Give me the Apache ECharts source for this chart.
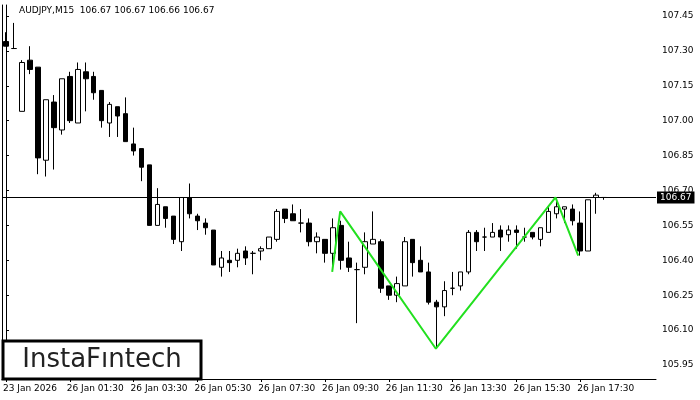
<!DOCTYPE html><html><head><meta charset="utf-8"><script src="https://cdn.jsdelivr.net/npm/echarts@6/dist/echarts.min.js"></script>
<style>body{margin:0}#c{width:700px;height:400px}</style></head><body><div id="c"></div><script>
// [open, close, low, high]
const ohlc = [
[107.34,107.32,107.32,107.38],[107.31,107.31,107.31,107.42],[107.04,107.25,107.04,107.26],[107.26,107.22,107.20,107.32],
[107.23,106.84,106.77,107.23],[106.83,107.09,106.76,107.09],[107.08,106.97,106.79,107.11],[106.96,107.18,106.94,107.18],
[107.19,107.00,106.99,107.21],[106.99,107.22,106.99,107.25],[107.21,107.18,107.04,107.25],[107.19,107.12,107.09,107.21],
[107.13,107.00,106.97,107.13],[106.99,107.07,106.93,107.08],[107.06,107.02,106.93,107.06],[107.03,106.91,106.91,107.10],
[106.90,106.87,106.85,106.97],[106.88,106.80,106.74,106.88],[106.81,106.55,106.55,106.81],[106.55,106.64,106.55,106.71],
[106.63,106.58,106.54,106.63],[106.59,106.49,106.47,106.59],[106.48,106.67,106.44,106.67],[106.67,106.60,106.58,106.73],
[106.59,106.57,106.53,106.60],[106.56,106.54,106.51,106.58],[106.53,106.38,106.38,106.53],[106.37,106.41,106.33,106.44],
[106.40,106.39,106.35,106.44],[106.40,106.43,106.37,106.45],[106.44,106.41,106.38,106.46],[106.43,106.43,106.34,106.44],
[106.44,106.45,106.40,106.46],[106.45,106.50,106.45,106.50],[106.49,106.61,106.48,106.62],[106.62,106.58,106.56,106.62],
[106.60,106.57,106.57,106.64],[106.56,106.56,106.52,106.62],[106.56,106.48,106.46,106.58],[106.48,106.50,106.43,106.52],
[106.49,106.43,106.39,106.49],[106.43,106.54,106.37,106.58],[106.55,106.40,106.36,106.57],[106.41,106.37,106.35,106.48],
[106.36,106.36,106.13,106.39],[106.37,106.48,106.34,106.52],[106.47,106.49,106.47,106.61],[106.48,106.28,106.26,106.49],
[106.29,106.25,106.23,106.29],[106.25,106.30,106.22,106.33],[106.29,106.48,106.29,106.50],[106.49,106.39,106.33,106.49],
[106.40,106.35,106.35,106.46],[106.35,106.22,106.21,106.39],[106.22,106.20,106.02,106.23],[106.20,106.27,106.16,106.31],
[106.28,106.28,106.25,106.35],[106.29,106.35,106.27,106.35],[106.35,106.52,106.34,106.53],[106.52,106.48,106.44,106.53],
[106.50,106.50,106.44,106.54],[106.50,106.52,106.50,106.56],[106.53,106.50,106.44,106.55],[106.51,106.53,106.48,106.55],
[106.53,106.52,106.45,106.55],[106.50,106.50,106.48,106.54],[106.52,106.50,106.49,106.52],[106.49,106.54,106.46,106.54],
[106.52,106.61,106.52,106.63],[106.60,106.63,106.58,106.67],[106.62,106.63,106.56,106.63],[106.62,106.57,106.55,106.64],
[106.56,106.44,106.42,106.61],[106.44,106.66,106.44,106.66],[106.67,106.68,106.60,106.69],[106.67,106.67,106.66,106.67]
];
const patternX = [40.9, 41.9, 53.9, 68.9, 71.75];
const patternY = [106.35, 106.61, 106.02, 106.67, 106.42];
const yTicks = [105.95,106.10,106.25,106.40,106.55,106.70,106.85,107.00,107.15,107.30,107.45];
const currentPrice = 106.67;
const totalSlots = 82;
const lastLabelIndex = 72;
const categories = [];
for (let i = 0; i < totalSlots; i++) {
  const m = (23*60+30) + i*15; const mm = m % 1440;
  const hh = String(Math.floor(mm/60)).padStart(2,'0'), mi = String(mm%60).padStart(2,'0');
  categories.push(i === 0 ? '23 Jan 2026' : '26 Jan ' + hh + ':' + mi);
}
const font = 'DejaVu Sans';
const showIdx = (i)=> i%8===0 && i<=lastLabelIndex;
const chart = echarts.init(document.getElementById('c'));
chart.setOption({
  animation:false, backgroundColor:'#fff',
  grid:{left:2, right:44, top:5, bottom:21},
  xAxis:[{type:'category', data:categories, boundaryGap:true,
    axisLine:{lineStyle:{color:'#000'}}, axisTick:{show:true, interval:showIdx, alignWithLabel:true, length:3, lineStyle:{color:'#000'}},
    axisLabel:{interval:showIdx, color:'#000', fontSize:9, fontFamily:font, align:'left', margin:5, padding:[0,0,0,-3]},
    splitLine:{show:false}},
   {type:'value', min:-0.5, max:totalSlots-0.5, show:false}],
  yAxis:[{type:'value', position:'right', min:105.89, max:107.497, scale:true,
    axisLine:{show:true, lineStyle:{color:'#000'}}, axisTick:{show:true, length:3, customValues:yTicks, lineStyle:{color:'#000'}},
    axisLabel:{customValues:yTicks, color:'#000', fontSize:9, fontFamily:font, margin:6, formatter:v=>v.toFixed(2)},
    splitLine:{show:false}},
   {type:'value', position:'left', min:105.89, max:107.497, axisLine:{show:true, onZero:false, lineStyle:{color:'#000'}}, axisTick:{show:false}, axisLabel:{show:false}, splitLine:{show:false}}],
  series:[{type:'candlestick', data:ohlc, barWidth:5,
    itemStyle:{color:'#fff', color0:'#000', borderColor:'#000', borderColor0:'#000', borderWidth:1},
    markLine:{symbol:'none', silent:true, data:[{yAxis:currentPrice}],
      lineStyle:{color:'#000', type:'solid', width:1},
      label:{position:'end', distance:1, formatter:currentPrice.toFixed(2), color:'#fff', backgroundColor:'#000', padding:[2,3,1,3], fontSize:9, fontFamily:font}}},
   {type:'line', xAxisIndex:1, data:patternX.map((x,i)=>[x,patternY[i]]), symbol:'none',
    lineStyle:{color:'#22e01f', width:2}, z:5}],
  graphic:[
    {type:'text', left:19, top:6, style:{text:'AUDJPY,M15  106.67 106.67 106.66 106.67', font:'9px '+font, fill:'#000'}},
    {type:'rect', shape:{x:3, y:341, width:198, height:38}, style:{fill:'#fff', stroke:'#000', lineWidth:3}, z:10},
    {type:'text', x:102, y:360, style:{text:'InstaFıntech', font:'500 26px '+font, fill:'#222', align:'center', verticalAlign:'middle'}, z:11}
  ]
});
</script></body></html>
